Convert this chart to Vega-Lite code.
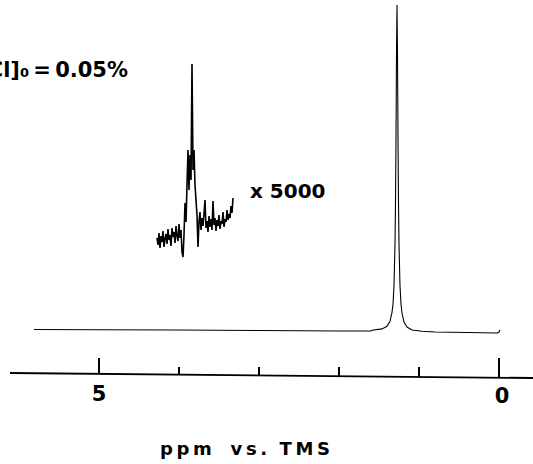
{
  "$schema": "https://vega.github.io/schema/vega-lite/v6.json",
  "width": 533,
  "height": 464,
  "autosize": {"type": "none"},
  "padding": 0,
  "background": "white",
  "config": {"view": {"stroke": null}},
  "datasets": {
    "main": [
      {"ppm": 5.8125, "v": 0.5}, {"ppm": 5.0, "v": 0.3}, {"ppm": 4.0, "v": 0}, {"ppm": 3.0, "v": -0.5},
      {"ppm": 2.0, "v": -1}, {"ppm": 1.6, "v": -1}, {"ppm": 1.5875, "v": -0.3}, {"ppm": 1.4625, "v": 1.1},
      {"ppm": 1.4, "v": 3.7}, {"ppm": 1.3625, "v": 8.7}, {"ppm": 1.3375, "v": 17.6}, {"ppm": 1.325, "v": 26},
      {"ppm": 1.3125, "v": 44}, {"ppm": 1.3, "v": 86}, {"ppm": 1.29375, "v": 127}, {"ppm": 1.2875, "v": 192},
      {"ppm": 1.28125, "v": 277}, {"ppm": 1.275, "v": 325}, {"ppm": 1.26875, "v": 277}, {"ppm": 1.2625, "v": 192},
      {"ppm": 1.25625, "v": 127}, {"ppm": 1.25, "v": 86}, {"ppm": 1.2375, "v": 44}, {"ppm": 1.225, "v": 26},
      {"ppm": 1.2125, "v": 17}, {"ppm": 1.1875, "v": 8}, {"ppm": 1.15, "v": 3}, {"ppm": 1.0875, "v": 0},
      {"ppm": 0.9625, "v": -1.2}, {"ppm": 0.8, "v": -2}, {"ppm": 0.4, "v": -2.5}, {"ppm": 0.02, "v": -3},
      {"ppm": 0.0, "v": -2}, {"ppm": -0.0125, "v": 0}
    ],
    "inset": [
      {"ppm": 4.275, "v": 92}, {"ppm": 4.2625, "v": 85}, {"ppm": 4.25, "v": 97}, {"ppm": 4.2375, "v": 82},
      {"ppm": 4.225, "v": 94}, {"ppm": 4.2125, "v": 88}, {"ppm": 4.2, "v": 99}, {"ppm": 4.1875, "v": 83},
      {"ppm": 4.175, "v": 91}, {"ppm": 4.1625, "v": 96}, {"ppm": 4.15, "v": 86}, {"ppm": 4.1375, "v": 101},
      {"ppm": 4.125, "v": 90}, {"ppm": 4.1125, "v": 95}, {"ppm": 4.1, "v": 84}, {"ppm": 4.0875, "v": 102},
      {"ppm": 4.075, "v": 93}, {"ppm": 4.0625, "v": 98}, {"ppm": 4.05, "v": 87}, {"ppm": 4.0375, "v": 104},
      {"ppm": 4.025, "v": 94}, {"ppm": 4.0125, "v": 89}, {"ppm": 4.0, "v": 106}, {"ppm": 3.9875, "v": 92},
      {"ppm": 3.975, "v": 100}, {"ppm": 3.9625, "v": 78}, {"ppm": 3.95, "v": 73}, {"ppm": 3.9375, "v": 95},
      {"ppm": 3.925, "v": 127}, {"ppm": 3.9125, "v": 108}, {"ppm": 3.9, "v": 145}, {"ppm": 3.8875, "v": 180},
      {"ppm": 3.875, "v": 140}, {"ppm": 3.8625, "v": 175}, {"ppm": 3.85, "v": 150}, {"ppm": 3.8375, "v": 266},
      {"ppm": 3.825, "v": 160}, {"ppm": 3.8125, "v": 180}, {"ppm": 3.8, "v": 145}, {"ppm": 3.7875, "v": 130},
      {"ppm": 3.775, "v": 115}, {"ppm": 3.7625, "v": 83}, {"ppm": 3.75, "v": 108}, {"ppm": 3.7375, "v": 118},
      {"ppm": 3.725, "v": 100}, {"ppm": 3.7125, "v": 112}, {"ppm": 3.7, "v": 104}, {"ppm": 3.6875, "v": 116},
      {"ppm": 3.675, "v": 130}, {"ppm": 3.6625, "v": 102}, {"ppm": 3.65, "v": 109}, {"ppm": 3.6375, "v": 98},
      {"ppm": 3.625, "v": 114}, {"ppm": 3.6125, "v": 103}, {"ppm": 3.6, "v": 111}, {"ppm": 3.5875, "v": 100},
      {"ppm": 3.575, "v": 129}, {"ppm": 3.5625, "v": 105}, {"ppm": 3.55, "v": 112}, {"ppm": 3.5375, "v": 99},
      {"ppm": 3.525, "v": 110}, {"ppm": 3.5125, "v": 104}, {"ppm": 3.5, "v": 115}, {"ppm": 3.4875, "v": 101},
      {"ppm": 3.475, "v": 109}, {"ppm": 3.4625, "v": 106}, {"ppm": 3.45, "v": 118}, {"ppm": 3.4375, "v": 103},
      {"ppm": 3.425, "v": 111}, {"ppm": 3.4125, "v": 108}, {"ppm": 3.4, "v": 120}, {"ppm": 3.3875, "v": 110},
      {"ppm": 3.375, "v": 116}, {"ppm": 3.3625, "v": 112}, {"ppm": 3.35, "v": 124}, {"ppm": 3.3375, "v": 117},
      {"ppm": 3.325, "v": 132}
    ],
    "axisline": [{"x": 6.1125, "x2": -0.425, "y": -43, "y2": -48}],
    "ticks": [
      {"ppm": 5, "bottom": -44, "top": -28},
      {"ppm": 4, "bottom": -44.6, "top": -37},
      {"ppm": 3, "bottom": -45.4, "top": -37},
      {"ppm": 2, "bottom": -46.2, "top": -37},
      {"ppm": 1, "bottom": -47, "top": -37},
      {"ppm": 0, "bottom": -47.7, "top": -28}
    ],
    "ticklabels": [
      {"ppm": 5, "v": -65, "label": "5"},
      {"ppm": -0.0375, "v": -67, "label": "0"}
    ],
    "mult": [{"ppm": 3.1125, "v": 138, "label": "x 5000"}],
    "title": [{"ppm": 3.175, "v": -120, "label": "p\u2009p\u2009m\u00a0\u00a0\u00a0v\u2009s\u2009.\u00a0\u00a0T\u2009M\u2009S"}],
    "conc": [{"ppm": 4.6375, "v": 253, "label": "[HCl]\u2080\u2009=\u20090.05%"}]
  },
  "layer": [
    {
      "data": {"name": "main"},
      "mark": {"type": "line", "color": "black", "strokeWidth": 1.1, "interpolate": "linear"},
      "encoding": {
        "x": {"field": "ppm", "type": "quantitative", "scale": {"domain": [6.2375, -0.425], "nice": false, "zero": false}, "axis": null},
        "y": {"field": "v", "type": "quantitative", "scale": {"domain": [-134, 330], "nice": false, "zero": false}, "axis": null}
      }
    },
    {
      "data": {"name": "inset"},
      "mark": {"type": "line", "color": "black", "strokeWidth": 1.6},
      "encoding": {
        "x": {"field": "ppm", "type": "quantitative"},
        "y": {"field": "v", "type": "quantitative"}
      }
    },
    {
      "data": {"name": "axisline"},
      "mark": {"type": "rule", "color": "black", "strokeWidth": 1.8},
      "encoding": {
        "x": {"field": "x", "type": "quantitative"},
        "x2": {"field": "x2"},
        "y": {"field": "y", "type": "quantitative"},
        "y2": {"field": "y2"}
      }
    },
    {
      "data": {"name": "ticks"},
      "mark": {"type": "rule", "color": "black", "strokeWidth": 2},
      "encoding": {
        "x": {"field": "ppm", "type": "quantitative"},
        "y": {"field": "bottom", "type": "quantitative"},
        "y2": {"field": "top"}
      }
    },
    {
      "data": {"name": "ticklabels"},
      "mark": {"type": "text", "font": "DejaVu Sans", "fontWeight": "bold", "fontSize": 21, "align": "center", "baseline": "middle", "color": "black"},
      "encoding": {
        "x": {"field": "ppm", "type": "quantitative"},
        "y": {"field": "v", "type": "quantitative"},
        "text": {"field": "label"}
      }
    },
    {
      "data": {"name": "mult"},
      "mark": {"type": "text", "font": "DejaVu Sans", "fontWeight": "bold", "fontSize": 20, "align": "left", "baseline": "middle", "color": "black"},
      "encoding": {
        "x": {"field": "ppm", "type": "quantitative"},
        "y": {"field": "v", "type": "quantitative"},
        "text": {"field": "label"}
      }
    },
    {
      "data": {"name": "title"},
      "mark": {"type": "text", "font": "DejaVu Sans", "fontWeight": "bold", "fontSize": 18, "align": "center", "baseline": "middle", "color": "black"},
      "encoding": {
        "x": {"field": "ppm", "type": "quantitative"},
        "y": {"field": "v", "type": "quantitative"},
        "text": {"field": "label"}
      }
    },
    {
      "data": {"name": "conc"},
      "mark": {"type": "text", "font": "DejaVu Sans", "fontWeight": "bold", "fontSize": 21, "align": "right", "baseline": "alphabetic", "color": "black"},
      "encoding": {
        "x": {"field": "ppm", "type": "quantitative"},
        "y": {"field": "v", "type": "quantitative"},
        "text": {"field": "label"}
      }
    }
  ]
}
